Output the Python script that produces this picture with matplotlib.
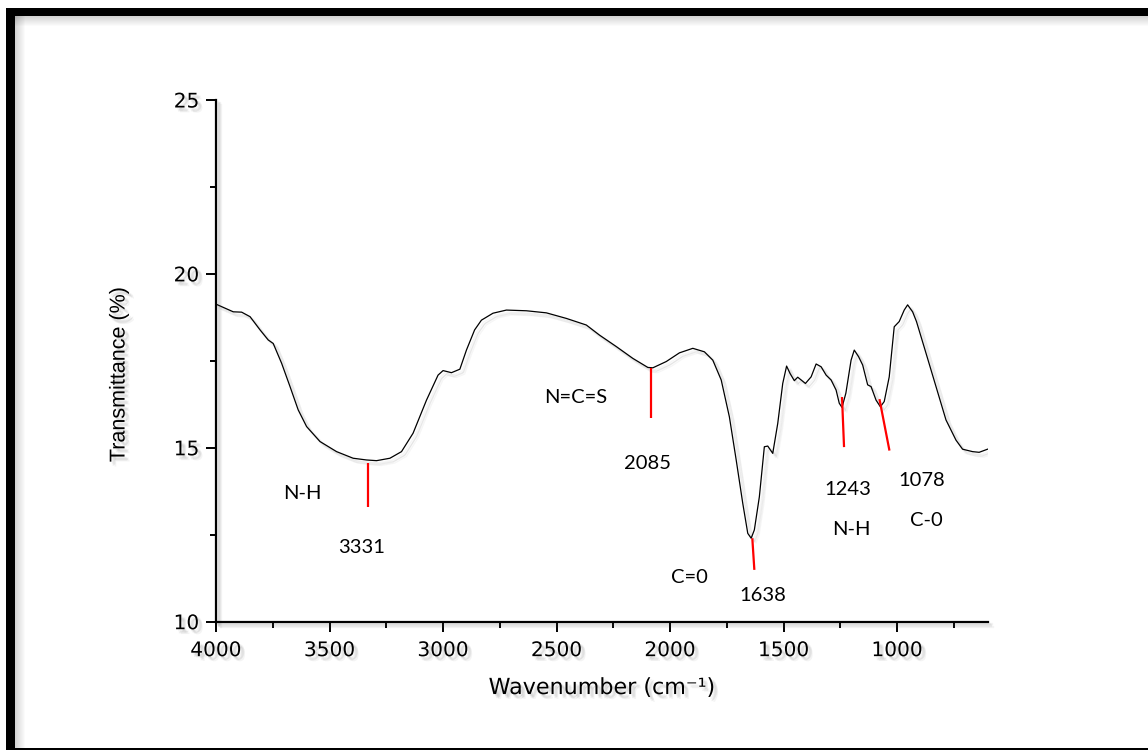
import matplotlib.pyplot as plt
import matplotlib.patheffects as pe
from matplotlib.patches import Rectangle
from matplotlib.ticker import MultipleLocator

# FTIR spectrum, wavenumber (cm-1) vs transmittance (%)
wavenumber = [4000, 3924, 3887, 3850, 3806, 3770, 3748, 3711, 3674, 3638,
              3601, 3542, 3469, 3396, 3337, 3293, 3234, 3183, 3132, 3073,
              3022, 3000, 2963, 2926, 2897, 2861, 2831, 2780, 2721, 2633,
              2545, 2457, 2369, 2311, 2237, 2164, 2098, 2076, 2017, 1959,
              1900, 1849, 1812, 1775, 1739, 1709, 1680, 1658, 1643, 1629,
              1607, 1585, 1570, 1548, 1526, 1504, 1487, 1472, 1453, 1438,
              1404, 1379, 1357, 1335, 1313, 1291, 1269, 1255, 1243, 1226,
              1203, 1189, 1170, 1152, 1130, 1115, 1093, 1074, 1057, 1035,
              1013, 991, 969, 954, 932, 915, 873, 829, 785, 741,
              712, 668, 639, 602]
transmittance = [19.13, 18.91, 18.90, 18.77, 18.39, 18.10, 18.00, 17.43, 16.76, 16.09,
                 15.61, 15.18, 14.89, 14.70, 14.65, 14.63, 14.70, 14.89, 15.42, 16.37,
                 17.09, 17.22, 17.16, 17.26, 17.81, 18.39, 18.67, 18.87, 18.96, 18.94,
                 18.88, 18.72, 18.53, 18.24, 17.91, 17.57, 17.31, 17.30, 17.48, 17.73,
                 17.86, 17.76, 17.52, 16.95, 15.89, 14.65, 13.40, 12.54, 12.40, 12.64,
                 13.59, 15.03, 15.05, 14.84, 15.70, 16.85, 17.35, 17.14, 16.93, 17.03,
                 16.85, 17.04, 17.41, 17.33, 17.09, 16.95, 16.66, 16.28, 16.16, 16.57,
                 17.52, 17.81, 17.62, 17.38, 16.81, 16.76, 16.37, 16.18, 16.33, 17.04,
                 18.48, 18.63, 18.96, 19.11, 18.91, 18.63, 17.72, 16.76, 15.80, 15.22,
                 14.96, 14.89, 14.87, 14.96]

# band assignments
peaks = [3331, 2085, 1638, 1243, 1078]
peak_groups = ["N-H", "N=C=S", "C=0", "N-H", "C-0"]

# red marker lines: top/bottom transmittance and slant of the lower end
mark_top = [14.56, 17.29, 12.40, 16.46, 16.40]
mark_bottom = [13.30, 15.85, 11.49, 15.02, 14.92]
mark_slant = [0, 0, -9, -9, -44]

# label positions (wavenumber, transmittance)
num_pos = [(3357, 12.12), (2101, 14.56), (1590, 10.74), (1216, 13.81), (894, 14.07)]
grp_pos = [(3621, 13.70), (2418, 16.46), (1916, 11.28), (1203, 12.66), (872, 12.92)]


def soft_shadow(alpha=0.07, text=False):
    offs = [(1.5, -1.5), (2.5, -2.5), (3.5, -3.5), (2.0, -3.0), (3.0, -2.0)]
    fx = []
    for o in offs:
        if text:
            fx.append(pe.SimplePatchShadow(offset=o, shadow_rgbFace='0.3', alpha=alpha))
        else:
            fx.append(pe.SimpleLineShadow(offset=o, shadow_color='0.3', alpha=alpha))
    fx.append(pe.Normal())
    return fx


W, H = 1148, 750
fig = plt.figure(figsize=(W / 100, H / 100), dpi=100)
ax = fig.add_axes([216 / W, 1 - 621.7 / H, 772 / W, 521.7 / H])

ax.plot(wavenumber, transmittance, color='black', lw=0.9, path_effects=soft_shadow(0.05))

for w, top, bot, dx in zip(peaks, mark_top, mark_bottom, mark_slant):
    ax.plot([w, w + dx], [top, bot], color='red', lw=1.6, solid_capstyle='butt')

for w, (x, y) in zip(peaks, num_pos):
    ax.text(x, y, str(w), ha='center', va='center', fontsize=14.5, family='Lato')
for g, (x, y) in zip(peak_groups, grp_pos):
    ax.text(x, y, g, ha='center', va='center', fontsize=14.5, family='Lato')

ax.set_xlim(4000, 600)
ax.set_ylim(10, 25)
ax.xaxis.set_major_locator(MultipleLocator(500))
ax.xaxis.set_minor_locator(MultipleLocator(250))
ax.yaxis.set_major_locator(MultipleLocator(5))
ax.yaxis.set_minor_locator(MultipleLocator(2.5))

for side in ['top', 'right']:
    ax.spines[side].set_visible(False)
for side in ['left', 'bottom']:
    ax.spines[side].set_linewidth(1.6)
    ax.spines[side].set_path_effects(soft_shadow(0.06))

ax.tick_params(which='major', direction='out', length=7, width=1.4, labelsize=14.5)
ax.tick_params(which='minor', direction='out', length=4, width=1.4)
ax.tick_params(axis='x', which='major', pad=7)
ax.tick_params(axis='y', which='major', pad=5)
for lab in ax.get_xticklabels() + ax.get_yticklabels():
    lab.set_family('DejaVu Sans')
    lab.set_path_effects(soft_shadow(0.06, text=True))

ax.set_xlabel('Wavenumber (cm\u207b\u00b9)', fontsize=16, family='DejaVu Sans',
              path_effects=soft_shadow(0.06, text=True))
ax.xaxis.set_label_coords(0.5, -0.108)
ax.set_ylabel('Transmittance (%)', fontsize=15.5, family='Liberation Sans',
              path_effects=soft_shadow(0.06, text=True))
ax.yaxis.set_label_coords(-0.112, 0.473)


def px_rect(x0, y0, x1, y1, **kw):
    fig.add_artist(Rectangle((x0 / W, 1 - y1 / H), (x1 - x0) / W, (y1 - y0) / H,
                             transform=fig.transFigure, lw=0, **kw))


# page frame with a soft inner shadow
for i in range(10):
    a = 0.28 * (1 - i / 10)
    px_rect(15, 16 + i, W, 17 + i, color='black', alpha=a * 0.6)
    px_rect(15 + i, 16, 16 + i, H, color='black', alpha=a * 0.6)
px_rect(6, 8, W, 16, color='black')
px_rect(6, 8, 15, H, color='black')
px_rect(6, 747.5, W, H, color='black')

fig.savefig('out.png', dpi=100)
